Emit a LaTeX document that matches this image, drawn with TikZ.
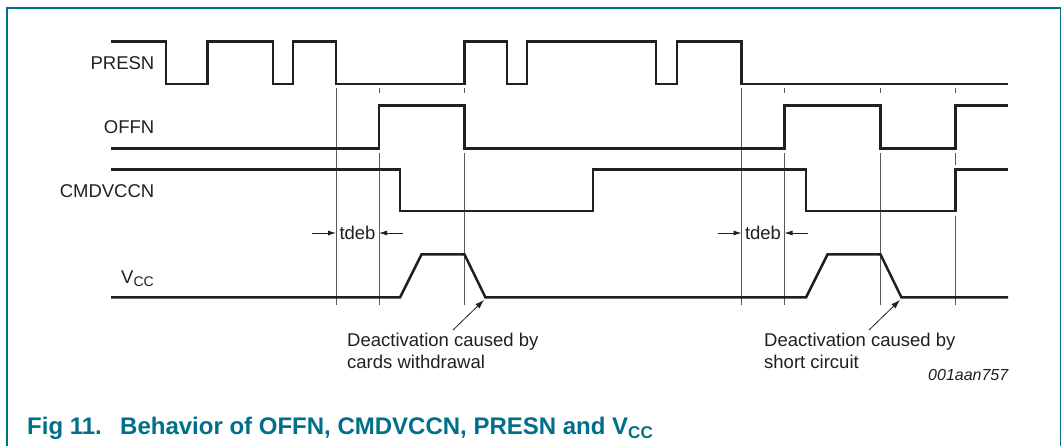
\documentclass[tikz,border=0pt]{standalone}
\usepackage{fontspec}
\setmainfont{Liberation Sans}
\usetikzlibrary{arrows.meta}
\definecolor{nxpteal}{RGB}{0,111,138}
\definecolor{sigcol}{RGB}{35,31,32}
\definecolor{guidecol}{RGB}{90,90,90}
\begin{document}
\begin{tikzpicture}[x=1pt,y=-1pt,
  signal/.style={draw=sigcol,line width=2.5pt,line join=miter},
  guide/.style={draw=guidecol,line width=0.8pt},
  lbl/.style={font=\fontsize{18.5}{20}\selectfont,text=sigcol,inner sep=0pt},
  note/.style={font=\fontsize{18.5}{20}\selectfont,text=sigcol,inner sep=0pt,anchor=base west},
  dimarrow/.style={draw=sigcol,line width=0.8pt,-{Latex[length=8pt,width=5pt]}},
  ptr/.style={draw=sigcol,line width=0.8pt,-{Latex[length=9pt,width=6pt]}},
  frame/.style={draw=nxpteal,line width=1.5pt},
  captxt/.style={font=\fontsize{24}{26}\selectfont\bfseries,text=nxpteal,inner sep=0pt,anchor=base west}]
\useasboundingbox (0,0) rectangle (1063,446);
\fill[white] (0,0) rectangle (1063,446);
% frame
\draw[frame] (7,446) -- (7,8) -- (1060.5,8) -- (1060.5,446);
% guide lines
\foreach \gx in {336,741.5}{\draw[guide] (\gx,88) -- (\gx,305);}
\foreach \gx in {379,464.5,784.5,880.5}{\draw[guide] (\gx,88) -- (\gx,93); \draw[guide] (\gx,153) -- (\gx,305);}
\draw[guide] (955.5,88) -- (955.5,93);
\draw[guide] (955.5,153) -- (955.5,165);
\draw[guide] (955.5,216) -- (955.5,305);
% PRESN
\draw[signal] (111,41.5) -- (166,41.5) -- (166,84) -- (207.5,84) -- (207.5,41.5) -- (273,41.5) -- (273,84) -- (293,84) -- (293,41.5) -- (336,41.5) -- (336,84) -- (464.5,84) -- (464.5,41.5) -- (507,41.5) -- (507,84) -- (527,84) -- (527,41.5) -- (656,41.5) -- (656,84) -- (677,84) -- (677,41.5) -- (741.5,41.5) -- (741.5,84) -- (1008,84);
% OFFN
\draw[signal] (111,148.5) -- (379,148.5) -- (379,105.5) -- (464.5,105.5) -- (464.5,148.5) -- (784.5,148.5) -- (784.5,105.5) -- (880.5,105.5) -- (880.5,148.5) -- (955.5,148.5) -- (955.5,105.5) -- (1008,105.5);
% CMDVCCN
\draw[signal] (111,169.5) -- (400,169.5) -- (400,211) -- (593,211) -- (593,169.5) -- (806,169.5) -- (806,211) -- (955.5,211) -- (955.5,169.5) -- (1008,169.5);
% VCC
\draw[signal] (111,297.5) -- (400,297.5) -- (421.5,254.5) -- (464.5,254.5) -- (485.5,297.5) -- (806,297.5) -- (827.5,254.5) -- (880.5,254.5) -- (901.5,297.5) -- (1008,297.5);
% labels
\node[lbl,anchor=east] (presn) at (154.5,63) {PRESN};
\node[lbl,anchor=east] (offn) at (154.5,127) {OFFN};
\node[lbl,anchor=east] (cmd) at (154.5,191) {CMDVCCN};
\node[lbl,anchor=base east] (vcc) at (154,283.5) {V\raisebox{-2.8pt}{\fontsize{14}{14}\selectfont CC}};
% tdeb
\node[lbl] (tdebA) at (357.5,233) {tdeb};
\coordinate (tAl) at (312,233); \coordinate (tAle) at (336,233);
\coordinate (tAr) at (403,233); \coordinate (tAre) at (379,233);
\draw[dimarrow] (tAl) -- (tAle);
\draw[dimarrow] (tAr) -- (tAre);
\node[lbl] (tdebB) at (763,233) {tdeb};
\coordinate (tBl) at (718,233); \coordinate (tBle) at (741.5,233);
\coordinate (tBr) at (808,233); \coordinate (tBre) at (784.5,233);
\draw[dimarrow] (tBl) -- (tBle);
\draw[dimarrow] (tBr) -- (tBre);
% notes
\node[note] (n1a) at (347,346) {Deactivation caused by};
\node[note] (n1b) at (347,368) {cards withdrawal};
\node[note] (n2a) at (764,346) {Deactivation caused by};
\node[note] (n2b) at (764,368) {short circuit};
\coordinate (p1t) at (453,330); \coordinate (p1h) at (484,300);
\coordinate (p2t) at (869,330); \coordinate (p2h) at (900,300);
\draw[ptr] (p1t) -- (p1h);
\draw[ptr] (p2t) -- (p2h);
\node[font=\fontsize{16}{18}\selectfont\itshape,text=sigcol,inner sep=0pt,anchor=base east] (code) at (1008.5,380) {001aan757};
% caption
\node[captxt] (figno) at (27,434) {Fig 11.};
\node[captxt] (cap) at (120,434) {Behavior of OFFN, CMDVCCN, PRESN and V\raisebox{-4pt}{\fontsize{17}{17}\selectfont CC}};
\end{tikzpicture}
\end{document}
